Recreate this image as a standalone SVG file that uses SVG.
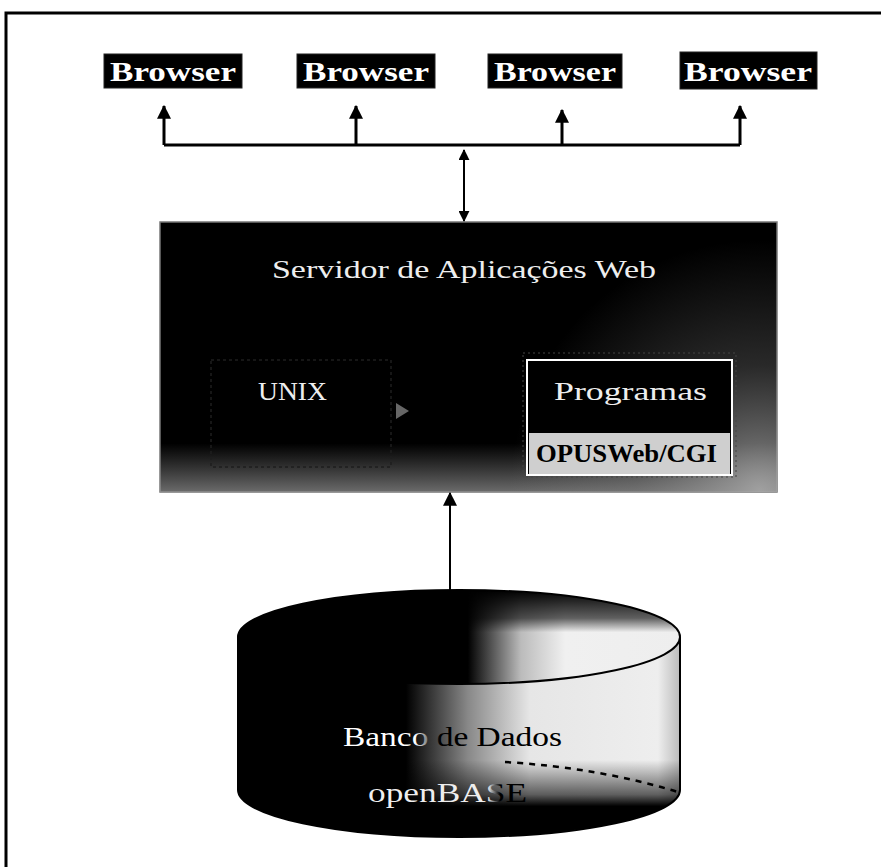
<svg xmlns="http://www.w3.org/2000/svg" width="881" height="867" viewBox="0 0 881 867">
<style>
.frame{fill:none;stroke:#000;stroke-width:3}
.bbox{fill:#000;stroke:#222;stroke-width:1}
.btxt{font-family:"Liberation Serif",serif;font-weight:bold;font-size:28px;fill:#fff;text-anchor:middle}
.wtxt{font-family:"Liberation Serif",serif;font-size:26px;fill:#eee}
.conn{fill:none;stroke:#000;stroke-width:3}
.thin{fill:none;stroke:#000;stroke-width:2}
</style>
<defs>
<marker id="ah" viewBox="0 0 12 12" refX="11" refY="6" markerWidth="14" markerHeight="14" markerUnits="userSpaceOnUse" orient="auto">
<path d="M0,0 L12,6 L0,12 Z" fill="#000"/>
</marker>
<marker id="ahs" viewBox="0 0 12 12" refX="11" refY="6" markerWidth="11" markerHeight="11" markerUnits="userSpaceOnUse" orient="auto-start-reverse">
<path d="M0,0 L12,6 L0,12 Z" fill="#000"/>
</marker>
<linearGradient id="srvBottom" x1="0" y1="0" x2="0" y2="1">
<stop offset="0" stop-color="#888" stop-opacity="0"/>
<stop offset="0.82" stop-color="#888" stop-opacity="0"/>
<stop offset="1" stop-color="#999" stop-opacity="0.7"/>
</linearGradient>
<radialGradient id="srvCorner" cx="760" cy="490" r="250" gradientUnits="userSpaceOnUse">
<stop offset="0" stop-color="#aaa" stop-opacity="0.85"/>
<stop offset="0.5" stop-color="#888" stop-opacity="0.3"/>
<stop offset="1" stop-color="#888" stop-opacity="0"/>
</radialGradient>
<linearGradient id="cylBody" x1="238" y1="0" x2="680" y2="0" gradientUnits="userSpaceOnUse">
<stop offset="0" stop-color="#000"/>
<stop offset="0.38" stop-color="#000"/>
<stop offset="0.52" stop-color="#888"/>
<stop offset="0.66" stop-color="#e6e6e6"/>
<stop offset="0.95" stop-color="#eee"/>
<stop offset="1" stop-color="#bbb"/>
</linearGradient>
<linearGradient id="cylTop" x1="238" y1="0" x2="680" y2="0" gradientUnits="userSpaceOnUse">
<stop offset="0" stop-color="#000"/>
<stop offset="0.52" stop-color="#000"/>
<stop offset="0.64" stop-color="#bbb"/>
<stop offset="0.74" stop-color="#f0f0f0"/>
<stop offset="1" stop-color="#eee"/>
</linearGradient>
<linearGradient id="topRim" x1="0" y1="590" x2="0" y2="684" gradientUnits="userSpaceOnUse">
<stop offset="0" stop-color="#000"/>
<stop offset="0.3" stop-color="#000" stop-opacity="0.6"/>
<stop offset="0.45" stop-color="#000" stop-opacity="0"/>
</linearGradient>
<linearGradient id="botRim" x1="0" y1="760" x2="0" y2="837" gradientUnits="userSpaceOnUse">
<stop offset="0" stop-color="#000" stop-opacity="0"/>
<stop offset="0.45" stop-color="#000" stop-opacity="0.6"/>
<stop offset="0.6" stop-color="#000"/>
</linearGradient>
<linearGradient id="txtBanco" x1="415" y1="0" x2="440" y2="0" gradientUnits="userSpaceOnUse">
<stop offset="0" stop-color="#fff"/>
<stop offset="1" stop-color="#000"/>
</linearGradient>
<linearGradient id="txtOpen" x1="488" y1="0" x2="500" y2="0" gradientUnits="userSpaceOnUse">
<stop offset="0" stop-color="#eee"/>
<stop offset="1" stop-color="#000"/>
</linearGradient>
</defs>

<path class="frame" d="M6,867 V13 H881"/>

<g id="browser1">
<rect class="bbox" x="104" y="54" width="138" height="34"/>
<text class="btxt" x="173" y="81" textLength="126" lengthAdjust="spacingAndGlyphs">Browser</text>
</g>
<g id="browser2">
<rect class="bbox" x="297" y="54" width="138" height="34"/>
<text class="btxt" x="366" y="81" textLength="126" lengthAdjust="spacingAndGlyphs">Browser</text>
</g>
<g id="browser3">
<rect class="bbox" x="488" y="54" width="134" height="34"/>
<text class="btxt" x="555" y="81" textLength="122" lengthAdjust="spacingAndGlyphs">Browser</text>
</g>
<g id="browser4">
<rect class="bbox" x="680" y="52" width="137" height="37"/>
<text class="btxt" x="748" y="81" textLength="128" lengthAdjust="spacingAndGlyphs">Browser</text>
</g>

<g id="server">
<rect x="160" y="222" width="617" height="270" fill="#000" stroke="#777" stroke-width="1.5"/>
<rect x="160" y="222" width="617" height="270" fill="url(#srvBottom)"/>
<rect x="160" y="222" width="617" height="270" fill="url(#srvCorner)"/>
<text class="wtxt" x="272" y="278" textLength="384" lengthAdjust="spacingAndGlyphs">Servidor de Aplicações Web</text>
<g id="unix">
<rect x="211" y="360" width="180" height="107" fill="none" stroke="#1e1e1e" stroke-width="1.5" stroke-dasharray="3 3"/>
<text class="wtxt" x="258" y="400" textLength="69" lengthAdjust="spacingAndGlyphs">UNIX</text>
<path d="M396,403 L409,411 L396,419 Z" fill="#666"/>
</g>
<g id="programas">
<rect x="523" y="353" width="213" height="124" fill="none" stroke="#444" stroke-width="1" stroke-dasharray="2 3"/>
<rect x="527" y="360" width="205" height="115" fill="#000" stroke="#fff" stroke-width="2"/>
<rect x="529" y="433" width="201" height="41" fill="#cfcfcf"/>
<text class="wtxt" x="554" y="400" textLength="153" lengthAdjust="spacingAndGlyphs">Programas</text>
<text x="536" y="462" font-family="'Liberation Serif',serif" font-weight="bold" font-size="25" fill="#000" textLength="181" lengthAdjust="spacingAndGlyphs">OPUSWeb/CGI</text>
</g>
</g>

<g id="database">
<path d="M238,637 V790 A221,47 0 0 0 680,790 V637 Z" fill="url(#cylBody)"/>
<path d="M238,637 V790 A221,47 0 0 0 680,790 V637 Z" fill="url(#botRim)"/>
<ellipse cx="459" cy="637" rx="221" ry="47" fill="url(#cylTop)"/>
<ellipse cx="459" cy="637" rx="221" ry="47" fill="url(#topRim)"/>
<path d="M238,637 V790 A221,47 0 0 0 680,790 V637 A221,47 0 0 0 238,637 A221,47 0 0 0 680,637" fill="none" stroke="#000" stroke-width="2"/>
<path d="M505,762 Q600,768 678,792" fill="none" stroke="#000" stroke-width="2.5" stroke-dasharray="6 6"/>
<text x="343" y="746" font-family="'Liberation Serif',serif" font-size="28" fill="url(#txtBanco)" textLength="219" lengthAdjust="spacingAndGlyphs">Banco de Dados</text>
<text x="368" y="802" font-family="'Liberation Serif',serif" font-size="28" fill="url(#txtOpen)" textLength="159" lengthAdjust="spacingAndGlyphs">openBASE</text>
</g>

<g id="connectors">
<path class="conn" d="M164,145 H740"/>
<path class="conn" d="M164,145 V106" marker-end="url(#ah)"/>
<path class="conn" d="M356,145 V106" marker-end="url(#ah)"/>
<path class="conn" d="M562,145 V110" marker-end="url(#ah)"/>
<path class="conn" d="M740,145 V106" marker-end="url(#ah)"/>
<path class="thin" d="M464,150 V221" marker-start="url(#ahs)" marker-end="url(#ahs)"/>
<path class="thin" d="M450,590 V493" marker-end="url(#ah)"/>
</g>
</svg>
